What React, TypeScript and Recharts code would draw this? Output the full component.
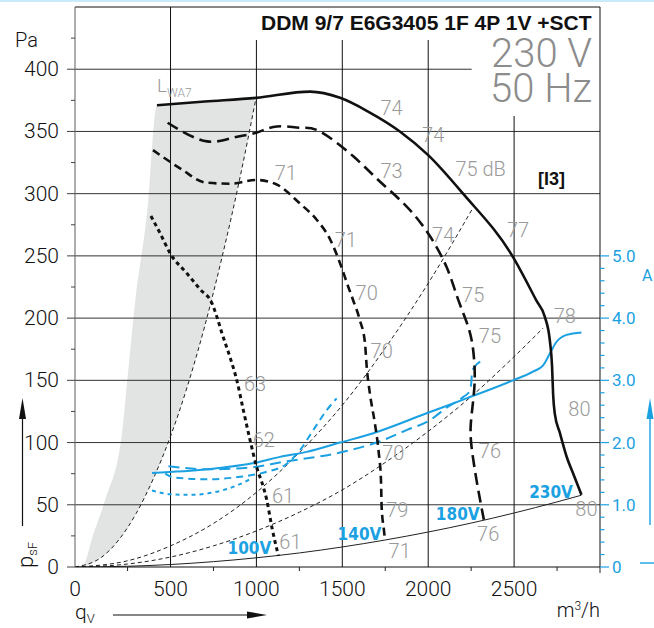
import React from 'react';
import { ComposedChart, Line, Area, Scatter, XAxis, YAxis, ReferenceLine } from 'recharts';

const FONT = '"Liberation Sans", Arial, sans-serif';
const LIGHT = 'Roboto, "Liberation Sans", Arial, sans-serif';
const BLUE = '#1ba1e2';
const GREY_TXT = '#9a9a9a';

// fan curves: q in m³/h, p in Pa
const q230 = [421, 700, 998, 1312, 1487, 1650, 1835, 2000, 2203, 2494, 2630, 2679, 2708, 2721, 2727, 2737, 2766, 2805, 2850, 2892];
const p230 = [371, 374, 377, 382, 377, 366, 350, 331, 300, 249, 214, 201, 182, 161, 139, 123, 108, 89, 73, 58];

const q180 = [483, 556, 713, 866, 998, 1119, 1254, 1370, 1564, 1709, 1865, 2000, 2107, 2174, 2233, 2262, 2271, 2262, 2248, 2252, 2281, 2310, 2324];
const p180 = [357, 351, 342, 345, 349, 354, 353, 350, 330, 311, 291, 268, 241, 215, 193, 174, 153, 134, 115, 97, 70, 48, 38];

const q140 = [398, 560, 702, 847, 998, 1109, 1254, 1351, 1430, 1487, 1535, 1564, 1603, 1632, 1642, 1661, 1690, 1712, 1725, 1729, 1742, 1748];
const p140 = [335, 320, 309, 308, 311, 308, 292, 279, 263, 244, 225, 214, 198, 180, 161, 139, 115, 92, 70, 48, 30, 22];

const q100 = [386, 440, 498, 595, 673, 741, 770, 799, 843, 886, 924, 963, 1002, 1041, 1060, 1090, 1128];
const p100 = [282, 268, 252, 236, 223, 212, 201, 188, 170, 150, 126, 102, 80, 64, 54, 32, 9];

// system curves
const qSys1 = [-56, 100, 200, 300, 400, 500, 600, 700, 800, 900, 998];
const pSys1 = [0, 8, 22, 43, 71, 105, 146, 194, 249, 310, 377];
const qSys2 = [-56, 250, 500, 750, 1000, 1250, 1500, 1750, 2000, 2262];
const pSys2 = [0, 5, 17, 35, 60, 92, 130, 176, 228, 289];
const qSys3 = [-56, 250, 500, 750, 1000, 1250, 1500, 1750, 2000, 2250, 2500, 2669];
const pSys3 = [0, 2.4, 8, 17, 29, 44, 62, 84, 109, 137, 169, 192];
const qSys4 = [-56, 250, 500, 750, 1000, 1250, 1500, 1750, 2000, 2250, 2500, 2750, 2892];
const pSys4 = [0, 0.6, 2, 4.3, 7.4, 11.3, 16.1, 21.7, 28.1, 35.3, 43.4, 52.3, 57.7];

// shaded L_WA7 zone
const qGray = [-56, -15, 52, 120, 217, 256, 295, 363, 421, 500, 600, 700, 800, 900, 998];
const pGrayLow = [0, 0, 4, 10, 25, 33, 42, 60, 77, 105, 146, 194, 249, 310, 377];
const pGrayHigh = [0, 0, 27, 54, 107, 161, 214, 284, 371, 372, 373, 374, 375, 376, 377];

// current curves, A
const qI230 = [392, 712, 1002, 1138, 1293, 1487, 1680, 1991, 2223, 2494, 2610, 2669, 2708, 2747, 2805, 2892];
const aI230 = [1.51, 1.57, 1.68, 1.77, 1.85, 2.0, 2.15, 2.47, 2.71, 3.0, 3.14, 3.24, 3.43, 3.62, 3.73, 3.77];
const qI180 = [488, 712, 963, 1157, 1487, 1719, 1874, 2010, 2107, 2203, 2242, 2252, 2254, 2272, 2310];
const aI180 = [1.62, 1.57, 1.6, 1.69, 1.84, 2.02, 2.2, 2.36, 2.56, 2.73, 2.83, 3.0, 3.13, 3.22, 3.31];
const qI140 = [469, 517, 712, 905, 1060, 1177, 1254, 1331, 1409, 1467];
const aI140 = [1.5, 1.44, 1.41, 1.45, 1.53, 1.66, 1.88, 2.2, 2.52, 2.71];
const qI100 = [392, 498, 615, 770, 886, 963];
const aI100 = [1.23, 1.17, 1.16, 1.21, 1.31, 1.41];

// sound level labels (dB)
const noiseQ = [1787, 2029, 1787, 2305, 2523, 2087, 1520, 1642, 2262, 1171, 2795, 2359, 1729, 2880, 1797, 2359, 1820, 2921, 2349, 1834, 992, 1043, 1155, 1198];
const noiseP = [369, 347, 318, 320, 271, 267, 263, 220, 219, 317, 202, 186, 174, 127, 92, 93, 46, 47, 27, 13, 147, 102, 57, 20];
const noiseText = ['74', '74', '73', '75 dB', '77', '74', '71', '70', '75', '71', '78', '75', '70', '80', '70', '76', '79', '80', '76', '71', '63', '62', '61', '61'];

const voltQ = [959, 1600, 2172, 2715];
const voltP = [15, 27, 43, 60];
const voltText = ['100V', '140V', '180V', '230V'];

const xTicks = [-56, 250, 500, 750, 1000, 1250, 1500, 1750, 2000, 2250, 2500, 2750, 3000];
const xLabels = [-56, 500, 1000, 1500, 2000, 2500];
const pTicks = [0, 25, 50, 75, 100, 125, 150, 175, 200, 225, 250, 275, 300, 325, 350, 375, 400, 425];
const aTicks = Array.from({ length: 26 }, (_, i) => i / 5);

const pts = (xs: number[], ys: number[]) => xs.map((x, i) => ({ x, y: ys[i] }));
const grayData = qGray.map((x, i) => ({ x, y: [pGrayLow[i], pGrayHigh[i]] }));
const noiseData = noiseQ.map((x, i) => ({ x, y: noiseP[i], t: noiseText[i] }));
const voltData = voltQ.map((x, i) => ({ x, y: voltP[i], t: voltText[i] }));

const XTick = ({ x, y, payload }: any) => {
  const v = payload.value;
  if (xLabels.includes(v)) {
    return (
      <text x={x} y={y + 29} textAnchor="middle" fontSize={21} fontFamily={LIGHT} fontWeight={300} fill="#111">
        {v < 0 ? '0' : v}
      </text>
    );
  }
  return <line x1={x} x2={x} y1={y} y2={y + (v === 3000 ? 6 : 4)} stroke="#222" />;
};

const PTick = ({ x, y, payload }: any) => {
  const v = payload.value;
  const major = v % 50 === 0;
  return (
    <g>
      <line x1={x - (major ? 8 : 4)} x2={x} y1={y} y2={y} stroke="#444" />
      {major && (
        <text x={x - 16} y={y + 7} textAnchor="end" fontSize={21} fontFamily={LIGHT} fontWeight={300} fill="#111">
          {v}
        </text>
      )}
    </g>
  );
};

const ATick = ({ x, y, payload }: any) => {
  const v = payload.value;
  const major = Math.abs(v - Math.round(v)) < 1e-6;
  return (
    <g>
      <line x1={x} x2={x + (major ? 9 : 4.5)} y1={y} y2={y} stroke={BLUE} strokeWidth={1.2} />
      {major && (
        <text x={x + 12} y={y + 6} fontSize={17} fontFamily={LIGHT} fill={BLUE}>
          {v === 0 ? '0' : v.toFixed(1)}
        </text>
      )}
    </g>
  );
};

const NoiseLabel = (props: any) => (
  <text x={props.cx} y={props.cy} dy="0.36em" textAnchor="middle" fontSize={20} fontFamily={LIGHT} fontWeight={300} fill={GREY_TXT}>
    {props.payload.t}
  </text>
);

const VoltLabel = (props: any) => (
  <text
    x={props.cx}
    y={props.cy}
    dy="0.36em"
    textAnchor="middle"
    fontSize={17}
    fontWeight="bold"
    fontFamily={'"Liberation Sans Narrow", "DejaVu Sans Condensed", Arial, sans-serif'}
    fill={BLUE}
  >
    {props.payload.t}
  </text>
);

export default function App() {
  const black = { stroke: '#111', strokeWidth: 2.6, dot: false, activeDot: false, isAnimationActive: false, yAxisId: 'p', dataKey: 'y' } as const;
  const thin = { stroke: '#222', strokeWidth: 1, dot: false, activeDot: false, isAnimationActive: false, yAxisId: 'p', dataKey: 'y', type: 'monotone' } as const;
  const blue = { stroke: BLUE, strokeWidth: 2, dot: false, activeDot: false, isAnimationActive: false, yAxisId: 'a', dataKey: 'y', type: 'monotone' } as const;

  return (
    <div style={{ position: 'absolute', left: 0, top: 0, width: 654, height: 628, background: '#fff', overflow: 'hidden' }}>
      <div style={{ position: 'absolute', left: 0, top: 0, width: 654, height: 2, background: '#c8ebfa' }} />
      <ComposedChart width={654} height={628} margin={{ top: 7, right: 0, bottom: 0, left: 0 }}>
        <XAxis
          dataKey="x"
          type="number"
          domain={[-56, 3000]}
          ticks={xTicks}
          interval={0}
          allowDataOverflow
          height={61}
          tickSize={0}
          tickMargin={0}
          tickLine={false}
          axisLine={{ stroke: '#111' }}
          tick={(p: any) => <XTick {...p} />}
        />
        <YAxis
          yAxisId="p"
          dataKey="y"
          type="number"
          domain={[0, 450]}
          ticks={pTicks}
          interval={0}
          allowDataOverflow
          width={75}
          tickSize={0}
          tickMargin={0}
          tickLine={false}
          axisLine={{ stroke: '#777', strokeWidth: 1.2 }}
          tick={(p: any) => <PTick {...p} />}
        />
        <YAxis
          yAxisId="a"
          orientation="right"
          dataKey="y"
          type="number"
          domain={[0, 9]}
          ticks={aTicks}
          interval={0}
          allowDataOverflow
          width={54}
          tickSize={0}
          tickMargin={0}
          tickLine={false}
          axisLine={false}
          tick={(p: any) => <ATick {...p} />}
        />

        <Area
          data={grayData}
          yAxisId="p"
          dataKey="y"
          type="monotone"
          fill="#e2e3e3"
          fillOpacity={1}
          stroke="none"
          isAnimationActive={false}
          activeDot={false}
        />

        {[50, 100, 150, 200, 250, 300, 350].map((v) => (
          <ReferenceLine key={'h' + v} yAxisId="p" y={v} stroke="#333" strokeWidth={1} />
        ))}
        <ReferenceLine yAxisId="p" segment={[{ x: -56, y: 400 }, { x: 2253, y: 400 }]} stroke="#333" />
        <ReferenceLine yAxisId="p" y={450} stroke="#111" />
        <ReferenceLine yAxisId="p" x={500} stroke="#111" />
        {[1000, 1500, 2000].map((v) => (
          <ReferenceLine key={'v' + v} yAxisId="p" segment={[{ x: v, y: 0 }, { x: v, y: 423.5 }]} stroke="#111" />
        ))}
        <ReferenceLine yAxisId="p" segment={[{ x: 2500, y: 0 }, { x: 2500, y: 362.4 }]} stroke="#111" />
        <ReferenceLine yAxisId="p" x={3000} stroke="#111" />

        <Line {...thin} data={pts(qSys1, pSys1)} strokeDasharray="4 3" />
        <Line {...thin} data={pts(qSys2, pSys2)} strokeDasharray="4 3" />
        <Line {...thin} data={pts(qSys3, pSys3)} strokeDasharray="4 3" />
        <Line {...thin} data={pts(qSys4, pSys4)} />

        <Line {...blue} data={pts(qI230, aI230)} />
        <Line {...blue} data={pts(qI180, aI180)} strokeDasharray="11 6" />
        <Line {...blue} data={pts(qI140, aI140)} strokeDasharray="7 5" />
        <Line {...blue} data={pts(qI100, aI100)} strokeDasharray="4 4" />

        <Line {...black} type="monotone" data={pts(q230, p230)} />
        <Line {...black} type="natural" data={pts(q180, p180)} strokeDasharray="12 6" />
        <Line {...black} type="monotone" data={pts(q140, p140)} strokeDasharray="8 5" />
        <Line {...black} type="monotone" data={pts(q100, p100)} strokeWidth={3} strokeDasharray="4 3.5" />

        <Scatter yAxisId="p" dataKey="y" data={noiseData} shape={NoiseLabel} isAnimationActive={false} />
        <Scatter yAxisId="p" dataKey="y" data={voltData} shape={VoltLabel} isAnimationActive={false} />
      </ComposedChart>

      <svg width={654} height={628} style={{ position: 'absolute', left: 0, top: 0, pointerEvents: 'none' }} fontFamily={FONT}>
        <text x={591.5} y={30} textAnchor="end" fontSize={21} fontWeight="bold" fill="#111">
          DDM 9/7 E6G3405 1F 4P 1V +SCT
        </text>
        <text x={592} y={67} textAnchor="end" fontSize={40} fontFamily={LIGHT} fontWeight={300} fill="#8c8c8c">230 V</text>
        <text x={592} y={102} textAnchor="end" fontSize={40} fontFamily={LIGHT} fontWeight={300} fill="#8c8c8c">50 Hz</text>
        <text x={538} y={185} fontSize={18} fontWeight="bold" fill="#111">[I3]</text>
        <text x={15} y={47} fontSize={20} fontFamily={LIGHT} fontWeight={300} fill="#111">Pa</text>
        <text x={157} y={92} fontSize={19} fontFamily={LIGHT} fontWeight={300} fill={GREY_TXT}>
          L<tspan fontSize={12} dy={5}>WA7</tspan>
        </text>

        <text x={75} y={619} fontSize={21} fontFamily={LIGHT} fontWeight={300} fill="#111">
          q<tspan fontSize={13} dy={4}>V</tspan>
        </text>
        <line x1={113} y1={615} x2={250} y2={615} stroke="#111" strokeWidth={1.2} />
        <polygon points="267,615 247,611.5 247,618.5" fill="#111" />
        <text x={600} y={617} textAnchor="end" fontSize={20} fontFamily={LIGHT} fontWeight={300} fill="#111">
          m<tspan fontSize={12} dy={-7}>3</tspan>
          <tspan dy={7}>/h</tspan>
        </text>

        <text transform="translate(33,568) rotate(-90)" fontSize={22} fontFamily={LIGHT} fontWeight={300} fill="#111">
          p<tspan fontSize={13} dy={4}>sF</tspan>
        </text>
        <line x1={22.5} y1={526} x2={22.5} y2={414} stroke="#111" strokeWidth={1.2} />
        <polygon points="22.5,398 19,419 26,419" fill="#111" />

        <line x1={650} y1={525} x2={650} y2={414} stroke={BLUE} strokeWidth={1.4} />
        <polygon points="650,398 646.5,419 653.5,419" fill={BLUE} />
        <line x1={640} y1={563} x2={654} y2={563} stroke={BLUE} strokeWidth={1.4} />
        <text x={642} y={281} fontSize={16} fontFamily={LIGHT} fill={BLUE}>A</text>
      </svg>
    </div>
  );
}
